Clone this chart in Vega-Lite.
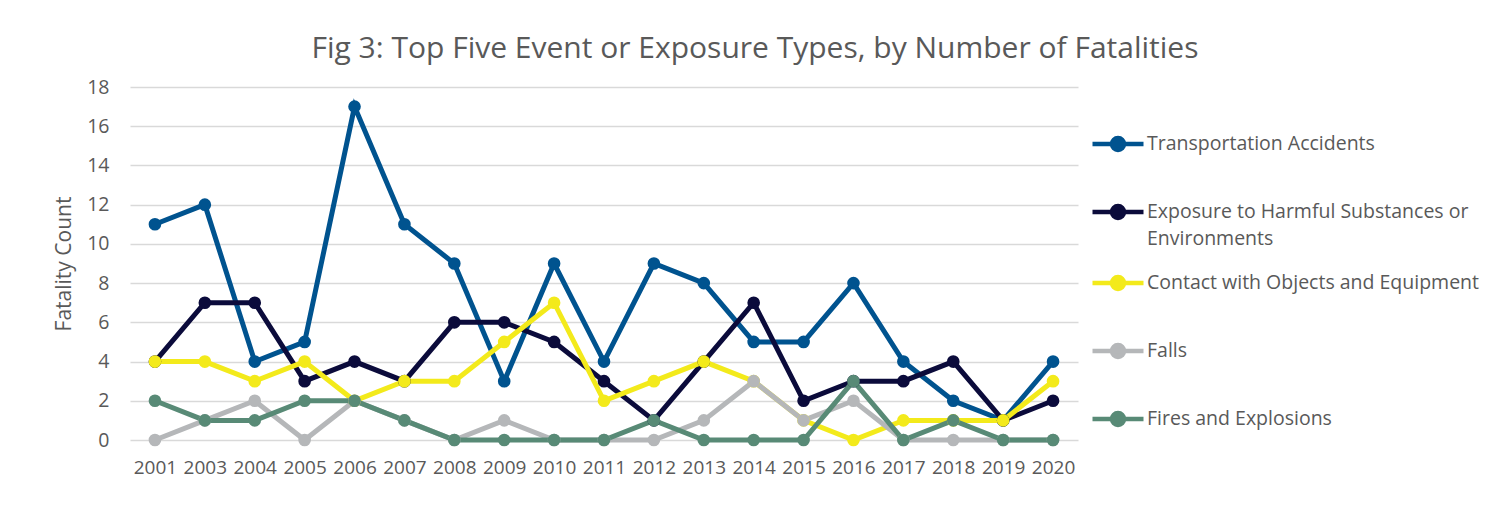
{
  "$schema": "https://vega.github.io/schema/vega-lite/v6.json",
  "autosize": "none",
  "width": 948,
  "height": 353,
  "padding": {"left": 130, "top": 87, "right": 428, "bottom": 72},
  "background": "white",
  "config": {
    "font": "Open Sans",
    "view": {"stroke": null},
    "axis": {"labelColor": "#595959", "titleColor": "#595959", "labelFont": "Open Sans", "titleFont": "Open Sans", "domain": false, "ticks": false}
  },
  "title": {
    "text": "Fig 3: Top Five Event or Exposure Types, by Number of Fatalities",
    "fontSize": 30,
    "fontWeight": "normal",
    "color": "#595959",
    "font": "Open Sans",
    "anchor": "middle",
    "dx": 151,
    "baseline": "alphabetic",
    "offset": -11
  },
  "data": {"values": [
    {"year": "2001", "type": "Transportation Accidents", "count": 11},
    {"year": "2003", "type": "Transportation Accidents", "count": 12},
    {"year": "2004", "type": "Transportation Accidents", "count": 4},
    {"year": "2005", "type": "Transportation Accidents", "count": 5},
    {"year": "2006", "type": "Transportation Accidents", "count": 17},
    {"year": "2007", "type": "Transportation Accidents", "count": 11},
    {"year": "2008", "type": "Transportation Accidents", "count": 9},
    {"year": "2009", "type": "Transportation Accidents", "count": 3},
    {"year": "2010", "type": "Transportation Accidents", "count": 9},
    {"year": "2011", "type": "Transportation Accidents", "count": 4},
    {"year": "2012", "type": "Transportation Accidents", "count": 9},
    {"year": "2013", "type": "Transportation Accidents", "count": 8},
    {"year": "2014", "type": "Transportation Accidents", "count": 5},
    {"year": "2015", "type": "Transportation Accidents", "count": 5},
    {"year": "2016", "type": "Transportation Accidents", "count": 8},
    {"year": "2017", "type": "Transportation Accidents", "count": 4},
    {"year": "2018", "type": "Transportation Accidents", "count": 2},
    {"year": "2019", "type": "Transportation Accidents", "count": 1},
    {"year": "2020", "type": "Transportation Accidents", "count": 4},
    {"year": "2001", "type": "Exposure to Harmful Substances or Environments", "count": 4},
    {"year": "2003", "type": "Exposure to Harmful Substances or Environments", "count": 7},
    {"year": "2004", "type": "Exposure to Harmful Substances or Environments", "count": 7},
    {"year": "2005", "type": "Exposure to Harmful Substances or Environments", "count": 3},
    {"year": "2006", "type": "Exposure to Harmful Substances or Environments", "count": 4},
    {"year": "2007", "type": "Exposure to Harmful Substances or Environments", "count": 3},
    {"year": "2008", "type": "Exposure to Harmful Substances or Environments", "count": 6},
    {"year": "2009", "type": "Exposure to Harmful Substances or Environments", "count": 6},
    {"year": "2010", "type": "Exposure to Harmful Substances or Environments", "count": 5},
    {"year": "2011", "type": "Exposure to Harmful Substances or Environments", "count": 3},
    {"year": "2012", "type": "Exposure to Harmful Substances or Environments", "count": 1},
    {"year": "2013", "type": "Exposure to Harmful Substances or Environments", "count": 4},
    {"year": "2014", "type": "Exposure to Harmful Substances or Environments", "count": 7},
    {"year": "2015", "type": "Exposure to Harmful Substances or Environments", "count": 2},
    {"year": "2016", "type": "Exposure to Harmful Substances or Environments", "count": 3},
    {"year": "2017", "type": "Exposure to Harmful Substances or Environments", "count": 3},
    {"year": "2018", "type": "Exposure to Harmful Substances or Environments", "count": 4},
    {"year": "2019", "type": "Exposure to Harmful Substances or Environments", "count": 1},
    {"year": "2020", "type": "Exposure to Harmful Substances or Environments", "count": 2},
    {"year": "2001", "type": "Contact with Objects and Equipment", "count": 4},
    {"year": "2003", "type": "Contact with Objects and Equipment", "count": 4},
    {"year": "2004", "type": "Contact with Objects and Equipment", "count": 3},
    {"year": "2005", "type": "Contact with Objects and Equipment", "count": 4},
    {"year": "2006", "type": "Contact with Objects and Equipment", "count": 2},
    {"year": "2007", "type": "Contact with Objects and Equipment", "count": 3},
    {"year": "2008", "type": "Contact with Objects and Equipment", "count": 3},
    {"year": "2009", "type": "Contact with Objects and Equipment", "count": 5},
    {"year": "2010", "type": "Contact with Objects and Equipment", "count": 7},
    {"year": "2011", "type": "Contact with Objects and Equipment", "count": 2},
    {"year": "2012", "type": "Contact with Objects and Equipment", "count": 3},
    {"year": "2013", "type": "Contact with Objects and Equipment", "count": 4},
    {"year": "2014", "type": "Contact with Objects and Equipment", "count": 3},
    {"year": "2015", "type": "Contact with Objects and Equipment", "count": 1},
    {"year": "2016", "type": "Contact with Objects and Equipment", "count": 0},
    {"year": "2017", "type": "Contact with Objects and Equipment", "count": 1},
    {"year": "2018", "type": "Contact with Objects and Equipment", "count": 1},
    {"year": "2019", "type": "Contact with Objects and Equipment", "count": 1},
    {"year": "2020", "type": "Contact with Objects and Equipment", "count": 3},
    {"year": "2001", "type": "Falls", "count": 0},
    {"year": "2003", "type": "Falls", "count": 1},
    {"year": "2004", "type": "Falls", "count": 2},
    {"year": "2005", "type": "Falls", "count": 0},
    {"year": "2006", "type": "Falls", "count": 2},
    {"year": "2007", "type": "Falls", "count": 1},
    {"year": "2008", "type": "Falls", "count": 0},
    {"year": "2009", "type": "Falls", "count": 1},
    {"year": "2010", "type": "Falls", "count": 0},
    {"year": "2011", "type": "Falls", "count": 0},
    {"year": "2012", "type": "Falls", "count": 0},
    {"year": "2013", "type": "Falls", "count": 1},
    {"year": "2014", "type": "Falls", "count": 3},
    {"year": "2015", "type": "Falls", "count": 1},
    {"year": "2016", "type": "Falls", "count": 2},
    {"year": "2017", "type": "Falls", "count": 0},
    {"year": "2018", "type": "Falls", "count": 0},
    {"year": "2019", "type": "Falls", "count": 0},
    {"year": "2020", "type": "Falls", "count": 0},
    {"year": "2001", "type": "Fires and Explosions", "count": 2},
    {"year": "2003", "type": "Fires and Explosions", "count": 1},
    {"year": "2004", "type": "Fires and Explosions", "count": 1},
    {"year": "2005", "type": "Fires and Explosions", "count": 2},
    {"year": "2006", "type": "Fires and Explosions", "count": 2},
    {"year": "2007", "type": "Fires and Explosions", "count": 1},
    {"year": "2008", "type": "Fires and Explosions", "count": 0},
    {"year": "2009", "type": "Fires and Explosions", "count": 0},
    {"year": "2010", "type": "Fires and Explosions", "count": 0},
    {"year": "2011", "type": "Fires and Explosions", "count": 0},
    {"year": "2012", "type": "Fires and Explosions", "count": 1},
    {"year": "2013", "type": "Fires and Explosions", "count": 0},
    {"year": "2014", "type": "Fires and Explosions", "count": 0},
    {"year": "2015", "type": "Fires and Explosions", "count": 0},
    {"year": "2016", "type": "Fires and Explosions", "count": 3},
    {"year": "2017", "type": "Fires and Explosions", "count": 0},
    {"year": "2018", "type": "Fires and Explosions", "count": 1},
    {"year": "2019", "type": "Fires and Explosions", "count": 0},
    {"year": "2020", "type": "Fires and Explosions", "count": 0}
  ]},
  "mark": {"type": "line", "strokeWidth": 5, "point": {"filled": true, "size": 160, "opacity": 1}},
  "encoding": {
    "x": {
      "field": "year", "type": "ordinal", "title": null, "sort": null,
      "axis": {"labelAngle": 0, "labelFontSize": 19, "labelPadding": 18, "grid": false}
    },
    "y": {
      "field": "count", "type": "quantitative", "title": "Fatality Count",
      "scale": {"domain": [0, 18], "nice": false},
      "axis": {"values": [0, 2, 4, 6, 8, 10, 12, 14, 16, 18], "labelFontSize": 19.5, "labelPadding": 21, "titleFontSize": 21, "titleFontWeight": "normal", "titlePadding": 12, "grid": true, "gridColor": "#D9D9D9", "gridWidth": 1.5}
    },
    "color": {
      "field": "type", "type": "nominal", "title": null,
      "scale": {
        "domain": ["Transportation Accidents", "Exposure to Harmful Substances or Environments", "Contact with Objects and Equipment", "Falls", "Fires and Explosions"],
        "range": ["#00538F", "#0B0B3B", "#F3EA1B", "#B5B7B9", "#588A76"]
      },
      "legend": {
        "orient": "none",
        "legendX": 960,
        "legendY": 23,
        "symbolType": "M-1,0H1M-0.235,0A0.235,0.235,0,1,1,0.235,0A0.235,0.235,0,1,1,-0.235,0Z",
        "symbolSize": 2601,
        "symbolStrokeWidth": 4.5,
        "labelFontSize": 19.5,
        "labelFont": "Open Sans",
        "labelColor": "#595959",
        "labelOffset": 1,
        "labelLimit": 420,
        "labelBaseline": "top",
        "clipHeight": 68,
        "rowPadding": 0,
        "labelExpr": "datum.label == 'Exposure to Harmful Substances or Environments' ? ['Exposure to Harmful Substances or', 'Environments'] : datum.label",
        "encode": {
          "symbols": {"update": {"fill": {"scale": "color", "field": "value"}, "stroke": {"scale": "color", "field": "value"}, "opacity": {"value": 1}}},
          "labels": {"update": {"dy": {"value": -9}, "lineHeight": {"value": 27}}}
        }
      }
    }
  }
}
